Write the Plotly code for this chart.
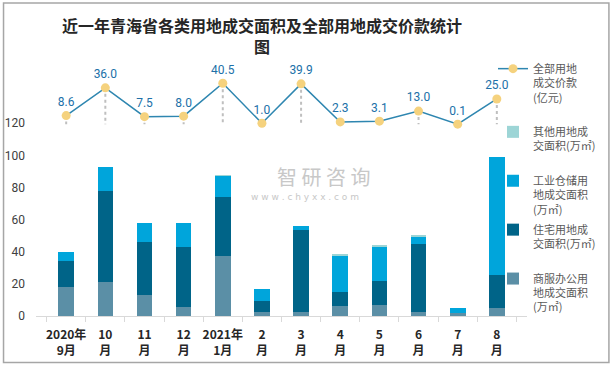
import plotly.graph_objects as go

categories = ["2020年9月", "10月", "11月", "12月", "2021年1月", "2月", "3月", "4月", "5月", "6月", "7月", "8月"]
tick_labels = ["2020年<br>9月", "10<br>月", "11<br>月", "12<br>月", "2021年<br>1月", "2<br>月",
               "3<br>月", "4<br>月", "5<br>月", "6<br>月", "7<br>月", "8<br>月"]

commercial = [18.0, 21.0, 13.0, 5.6, 37.5, 2.5, 2.5, 6.2, 6.8, 2.5, 1.9, 4.7]     # 商服办公用地
residential = [16.4, 56.9, 33.2, 37.1, 36.5, 6.8, 51.1, 8.6, 14.8, 42.0, 0.0, 21.1]  # 住宅用地
industrial = [5.6, 14.7, 11.9, 15.4, 13.2, 7.2, 2.5, 22.3, 21.7, 5.0, 2.8, 73.2]     # 工业仓储用地
other = [0.0, 0.0, 0.0, 0.0, 0.4, 0.0, 0.0, 1.7, 0.4, 0.6, 0.0, 0.0]                 # 其他用地
price = [8.6, 36.0, 7.5, 8.0, 40.5, 1.0, 39.9, 2.3, 3.1, 13.0, 0.1, 25.0]            # 全部用地成交价款(亿元)

y_ticks = [0, 20, 40, 60, 80, 100, 120]

W, H = 613, 368
ML, MR, MT, MB = 35.5, 86, 60, 51.5
PW, PH = W - ML - MR, H - MT - MB

fig = go.Figure()

fig.add_trace(go.Bar(x=categories, y=commercial, name="商服办公用<br>地成交面积<br>(万㎡)",
                     legendgroup="a", legendrank=5, marker=dict(color="#5B8FA6", line=dict(width=0))))
fig.add_trace(go.Bar(x=categories, y=residential, name="住宅用地成<br>交面积(万㎡)<br> ",
                     legendgroup="b", legendrank=4, marker=dict(color="#006488", line=dict(width=0))))
fig.add_trace(go.Bar(x=categories, y=industrial, name="工业仓储用<br>地成交面积<br>(万㎡)",
                     legendgroup="c", legendrank=3, marker=dict(color="#00A5DB", line=dict(width=0))))
fig.add_trace(go.Bar(x=categories, y=other, name="其他用地成<br>交面积(万㎡)<br> ",
                     legendgroup="d", legendrank=2, marker=dict(color="#9DD5D6", line=dict(width=0))))

# drop lines from each price point down to zero
dx, dy = [], []
for c, v in zip(categories, price):
    dx += [c, c, None]
    dy += [v, 0, None]
fig.add_trace(go.Scatter(x=dx, y=dy, yaxis="y2", mode="lines", showlegend=False,
                         hoverinfo="skip", legendgroup="e", legendrank=1,
                         line=dict(color="#BFBFBF", width=2, dash="dot")))

fig.add_trace(go.Scatter(x=categories, y=price, yaxis="y2", mode="lines+markers+text",
                         name="全部用地<br>成交价款<br>(亿元)<br> ", legendgroup="e", legendrank=1,
                         text=[f"{v:.1f}" for v in price], textposition="top center",
                         textfont=dict(color="#2070A8", size=12, family="Roboto, DejaVu Sans, sans-serif"),
                         line=dict(color="#2E86B0", width=1.5),
                         marker=dict(color="#F5D27E", size=9)))

# figure border
fig.add_shape(type="rect", xref="paper", yref="paper",
              x0=(3 - ML) / PW, x1=(609 - ML) / PW,
              y0=(H - MB - 363) / PH, y1=(H - MB - 3) / PH,
              line=dict(color="#A6A6A6", width=1.5), fillcolor="rgba(0,0,0,0)", layer="below")

# watermark
fig.add_annotation(xref="paper", yref="paper", x=(323 - ML) / PW, y=(H - MB - 177) / PH,
                   text="智 研 咨 询", showarrow=False,
                   font=dict(size=20, color="#C8C8C8", family="Noto Sans CJK SC"))
fig.add_annotation(xref="paper", yref="paper", x=(305 - ML) / PW, y=(H - MB - 197) / PH,
                   text="w w w . c h y x x . c o m", showarrow=False,
                   font=dict(size=9, color="#C8C8C8", family="DejaVu Sans"))

fig.update_layout(
    width=W, height=H,
    margin=dict(l=ML, r=MR, t=MT, b=MB, autoexpand=False),
    paper_bgcolor="white", plot_bgcolor="white",
    barmode="stack", bargap=0.6,
    font=dict(family="Noto Sans CJK SC, sans-serif", color="#404040"),
    title=dict(text="近一年青海省各类用地成交面积及全部用地成交价款统计<br>图",
               x=262 / W, xanchor="center", y=1 - 32 / H, yanchor="top",
               font=dict(size=16, color="#262626", family="Noto Sans CJK SC", weight="bold")),
    xaxis=dict(type="category", tickvals=categories, ticktext=tick_labels, tickangle=0,
               tickfont=dict(size=12, color="#262626", family="Noto Sans CJK SC", weight="bold"),
               showline=True, linecolor="#D9D9D9", linewidth=1,
               ticks="outside", tickson="boundaries", ticklen=5, tickcolor="#D9D9D9",
               ticklabelstandoff=8, showgrid=False, zeroline=False),
    yaxis=dict(range=[0, PH / 1.61], tickvals=y_ticks, showgrid=False, zeroline=False,
               showline=False, ticks="", ticklabelstandoff=10,
               tickfont=dict(size=12, color="#404040", family="Roboto, DejaVu Sans, sans-serif")),
    yaxis2=dict(overlaying="y", range=[-(H - MB - 124.4) / 1.015, (124.4 - MT) / 1.015],
                visible=False),
    legend=dict(x=493 / W, xanchor="left", xref="container",
                y=1 - 55 / H, yanchor="top", yref="container",
                traceorder="grouped", valign="top", bgcolor="rgba(0,0,0,0)",
                font=dict(size=11, color="#595959", family="Noto Sans CJK SC"),
                itemwidth=30, tracegroupgap=3, maxheight=1),
    showlegend=True,
)

fig.write_html("out.html", config={"displayModeBar": False},
               post_script="document.body.style.margin='0';")
